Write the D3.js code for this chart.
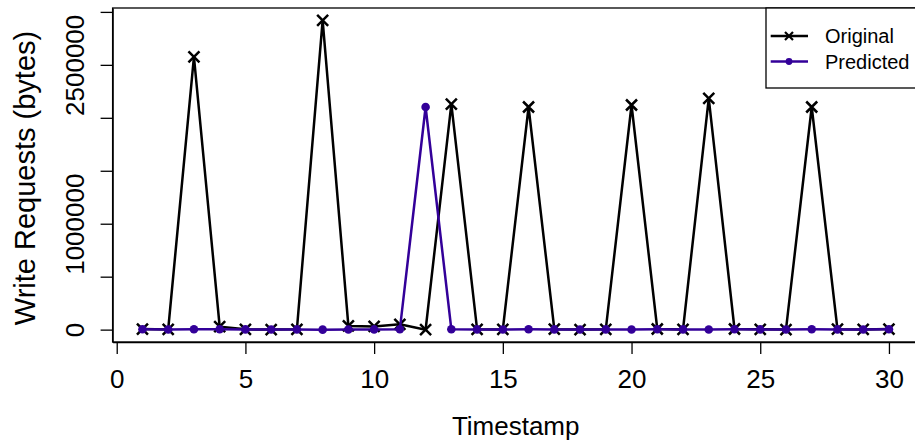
<!DOCTYPE html>
<html lang="en">
<head>
<meta charset="UTF-8">
<title>Write Requests</title>
<script src="https://d3js.org/d3.v7.min.js"></script>
<style>
  body { margin: 0; background: #fff; }
  text { font-family: "Liberation Sans", Arial, sans-serif; fill: #000; }
</style>
</head>
<body>
<div id="chart"></div>
<script>

// data
var timestamps = d3.range(1, 31);
var original = [5000, 2000, 2575000, 28000, 3000, 1000, 3000, 2920000, 35000, 30000,
                50000, 0, 2130000, 3000, 2000, 2102000, 4000, 1000, 3000, 2121000,
                6000, 2000, 2183000, 6000, 3000, 1000, 2102000, 4000, 2000, 5000];
var predicted = [3000, 1000, 4000, 3000, 2000, 1000, 2000, 0, 1000, 2000,
                 3000, 2102000, 3000, 2000, 1000, 4000, 2000, 1000, 2000, 1000,
                 3000, 2000, 1000, 3000, 2000, 1000, 3000, 2000, 1000, 4000];
var xTicks = [0, 5, 10, 15, 20, 25, 30];
var yTicks = [0, 500000, 1000000, 1500000, 2000000, 2500000, 3000000];
var yTickLabels = ["0", "", "1000000", "", "", "2500000", ""];
var seriesNames = ["Original", "Predicted"];
var seriesColors = ["#000000", "#330099"];

var W = 915, H = 444;
var plot = {left: 112.6, right: 918.8, top: 8, bottom: 342};

var svg = d3.select("#chart").append("svg")
    .attr("width", W)
    .attr("height", H);

svg.append("rect").attr("width", W).attr("height", H).attr("fill", "#fff");

// R style 4% padding on both axes
function padded(ext) {
  var d = (ext[1] - ext[0]) * 0.04;
  return [ext[0] - d, ext[1] + d];
}
var x = d3.scaleLinear()
    .domain(padded(d3.extent(timestamps)))
    .range([plot.left, plot.right]);
var y = d3.scaleLinear()
    .domain(padded(d3.extent(original.concat(predicted))))
    .range([plot.bottom, plot.top]);

// x axis
var xAxis = svg.append("g")
    .attr("transform", "translate(0," + plot.bottom + ")")
    .call(d3.axisBottom(x).tickValues(xTicks).tickSize(12).tickSizeOuter(0).tickPadding(0));
xAxis.selectAll("path, line").attr("stroke", "#000").attr("stroke-width", 1.3);
xAxis.selectAll("text").remove();
xAxis.selectAll(".tick").append("text")
    .attr("y", 46)
    .attr("text-anchor", "middle")
    .style("font-size", "26px")
    .text(function(d) { return d; });

// y axis
var yAxis = svg.append("g")
    .attr("transform", "translate(" + plot.left + ",0)")
    .call(d3.axisLeft(y).tickValues(yTicks).tickSize(12).tickSizeOuter(0));
yAxis.selectAll("path, line").attr("stroke", "#000").attr("stroke-width", 1.3);
yAxis.selectAll("text").remove();
yAxis.selectAll(".tick").append("text")
    .attr("transform", "translate(-29,0) rotate(-90)")
    .attr("text-anchor", "middle")
    .style("font-size", "26px")
    .text(function(d, i) { return yTickLabels[i]; });

// plot box
svg.append("rect")
    .attr("x", plot.left).attr("y", plot.top)
    .attr("width", plot.right - plot.left)
    .attr("height", plot.bottom - plot.top)
    .attr("fill", "none")
    .attr("stroke", "#000")
    .attr("stroke-width", 1.3);

// axis titles
svg.append("text")
    .attr("x", (plot.left + plot.right) / 2)
    .attr("y", 435)
    .attr("text-anchor", "middle")
    .style("font-size", "26px")
    .text("Timestamp");

svg.append("text")
    .attr("transform", "translate(35," + ((plot.top + plot.bottom) / 2 + 3) + ") rotate(-90)")
    .attr("text-anchor", "middle")
    .style("font-size", "29px")
    .text("Write Requests (bytes)");

var line = d3.line()
    .x(function(d, i) { return x(timestamps[i]); })
    .y(function(d) { return y(d); });

function crossPath(s) {
  return "M" + (-s) + "," + (-s) + "L" + s + "," + s + "M" + (-s) + "," + s + "L" + s + "," + (-s);
}

// Original series: line with crosses
svg.append("path")
    .datum(original)
    .attr("d", line)
    .attr("fill", "none")
    .attr("stroke", seriesColors[0])
    .attr("stroke-width", 2.5);
svg.append("g").selectAll("path")
    .data(original)
    .enter().append("path")
    .attr("transform", function(d, i) { return "translate(" + x(timestamps[i]) + "," + y(d) + ")"; })
    .attr("d", crossPath(5.5))
    .attr("stroke", seriesColors[0])
    .attr("stroke-width", 2.5);

// Predicted series: line with dots
svg.append("path")
    .datum(predicted)
    .attr("d", line)
    .attr("fill", "none")
    .attr("stroke", seriesColors[1])
    .attr("stroke-width", 2.5);
svg.append("g").selectAll("circle")
    .data(predicted)
    .enter().append("circle")
    .attr("cx", function(d, i) { return x(timestamps[i]); })
    .attr("cy", function(d) { return y(d); })
    .attr("r", 4.3)
    .attr("fill", seriesColors[1]);

// legend
var legend = svg.append("g");
legend.append("rect")
    .attr("x", 766).attr("y", plot.top)
    .attr("width", plot.right - 766).attr("height", 80)
    .attr("fill", "#fff")
    .attr("stroke", "#000")
    .attr("stroke-width", 1.3);
var rows = legend.selectAll("g.row")
    .data(seriesNames)
    .enter().append("g")
    .attr("transform", function(d, i) { return "translate(0," + (36 + i * 25.5) + ")"; });
rows.append("line")
    .attr("x1", 770.7).attr("x2", 808)
    .attr("stroke", function(d, i) { return seriesColors[i]; })
    .attr("stroke-width", 2.5);
rows.filter(function(d, i) { return i === 0; }).append("path")
    .attr("transform", "translate(789,0)")
    .attr("d", crossPath(4))
    .attr("stroke", seriesColors[0])
    .attr("stroke-width", 2.2);
rows.filter(function(d, i) { return i === 1; }).append("circle")
    .attr("cx", 789).attr("r", 3.4)
    .attr("fill", seriesColors[1]);
rows.append("text")
    .attr("x", 825).attr("y", 7)
    .style("font-size", "20px")
    .text(function(d) { return d; });

</script>
</body>
</html>
